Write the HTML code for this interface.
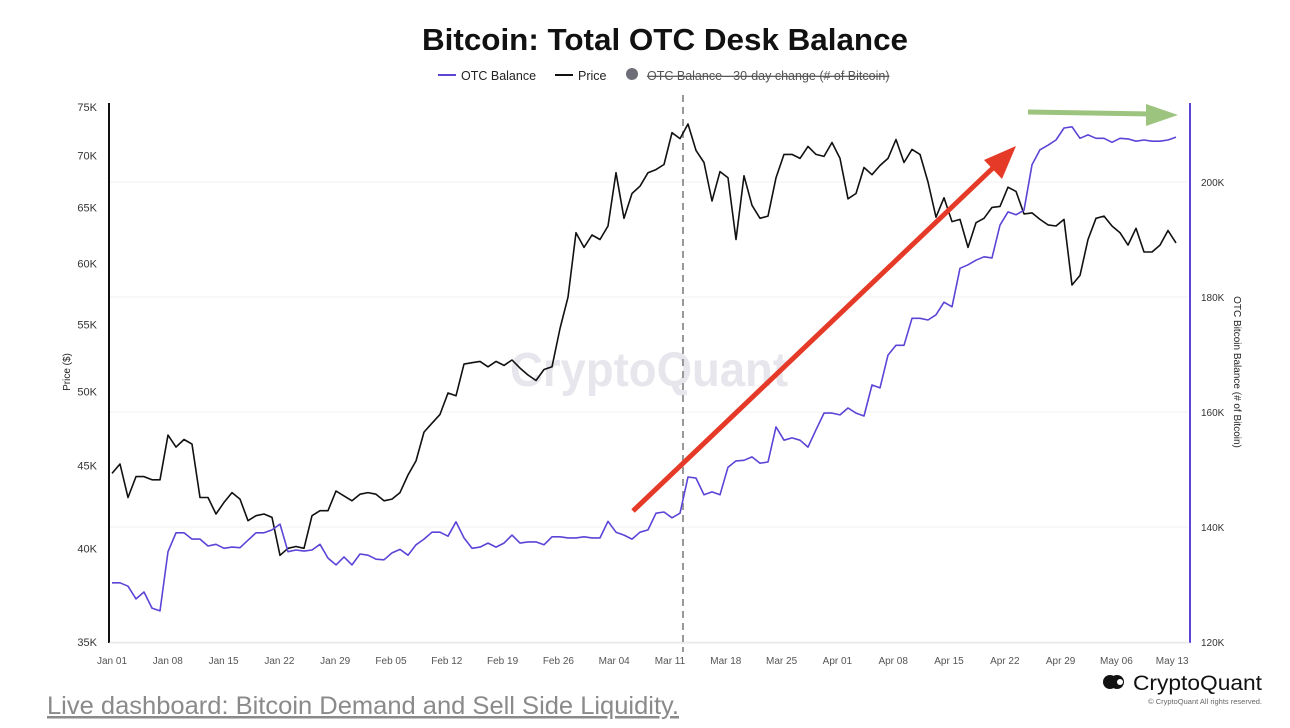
<!DOCTYPE html>
<html><head><meta charset="utf-8"><style>
body{margin:0;background:#fff;width:1290px;height:728px;overflow:hidden;font-family:"Liberation Sans",sans-serif;}
svg{display:block}
</style></head><body>
<svg id="chart" width="1290" height="728">
<text x="665" y="50" text-anchor="middle" font-size="31" font-weight="bold" fill="#111" textLength="486" lengthAdjust="spacingAndGlyphs">Bitcoin: Total OTC Desk Balance</text>
<g font-size="12.5" fill="#222">
<g><line x1="438" y1="75" x2="456" y2="75" stroke="#5a45d6" stroke-width="2"/><text x="461" y="80">OTC Balance</text></g>
<g><line x1="555" y1="75" x2="573" y2="75" stroke="#111" stroke-width="2"/><text x="578" y="80">Price</text></g>
<g><circle cx="632" cy="74" r="6" fill="#6e6e78"/><text x="647" y="80" fill="#555" text-decoration="line-through">OTC Balance - 30-day change (# of Bitcoin)</text></g>
</g>
<text x="510" y="386" font-size="48" font-weight="bold" fill="#e6e6ec" textLength="278" lengthAdjust="spacingAndGlyphs">CryptoQuant</text>
<g id="grid"></g>
<g id="axes"></g>
<line x1="683" y1="95" x2="683" y2="652" stroke="#999" stroke-width="2" stroke-dasharray="7,5"/>
<g id="series"></g>
<g>
<line x1="633" y1="511" x2="995" y2="166" stroke="#e63a28" stroke-width="5"/>
<polygon points="1016,146 984,160 1002,179" fill="#e63a28"/></g>
<g>
<line x1="1028" y1="112" x2="1150" y2="114" stroke="#9dc47e" stroke-width="5"/>
<polygon points="1178,115 1146,104 1146,126" fill="#9dc47e"/></g>
<text x="47" y="714" font-size="25" fill="#8a8a8a" text-decoration="underline" textLength="632" lengthAdjust="spacingAndGlyphs">Live dashboard: Bitcoin Demand and Sell Side Liquidity.</text>
<g>
<circle cx="1110" cy="682" r="7" fill="#111"/><circle cx="1117" cy="682" r="7" fill="#111"/><circle cx="1120" cy="682" r="3" fill="#fff"/>
<text x="1133" y="690" font-size="21" fill="#111" textLength="129" lengthAdjust="spacingAndGlyphs">CryptoQuant</text>
<text x="1262" y="704" text-anchor="end" font-size="7.5" fill="#666">© CryptoQuant All rights reserved.</text></g>
</svg>
<script>
const priceJan=[44.5,45.1,43.0,44.3,44.3,44.1,44.1,47.0,46.2,46.7,46.4,43.0,43.0,42.0,42.7,43.3,42.9,41.6,41.9,42.0,41.8,39.6,40.0,40.1,40.0,41.9,42.2,42.2,43.4,43.1,42.8];
const priceFeb=[43.2,43.3,43.2,42.8,42.9,43.3,44.4,45.3,47.2,47.8,48.4,49.9,49.7,52.0,52.1,52.2,51.8,52.2,51.9,52.3,51.7,51.2,50.8,51.6,51.8,54.7,57.2,62.7,61.4];
const priceMar=[62.5,62.1,63.3,68.3,64.0,66.3,67.0,68.3,68.6,69.1,72.3,71.7,73.2,70.5,69.3,65.6,68.4,67.8,62.1,68.0,65.2,64.0,64.2,67.8,70.1,70.1,69.7,70.9,70.1,69.9,71.3];
const priceApr=[69.7,65.8,66.3,68.8,68.1,69.0,69.7,71.6,69.3,70.6,70.1,67.4,64.1,65.9,63.7,63.9,61.4,63.6,64.0,65.0,65.1,66.9,66.5,64.4,64.5,63.9,63.4,63.3,63.9,58.2];
const priceMay=[59.0,62.1,64.0,64.2,63.3,62.7,61.6,63.1,61.0,61.0,61.6,62.9,61.8];
const otcJan=[130.3,130.3,129.7,127.5,128.7,125.9,125.4,135.7,139.0,139.0,137.9,137.9,136.7,137.0,136.3,136.5,136.4,137.7,139.0,139.0,139.5,140.5,135.7,136.0,135.8,136.0,137.0,134.6,133.4,134.8,133.4];
const otcFeb=[135.3,135.1,134.4,134.3,135.5,136.1,135.1,136.9,137.9,139.1,139.1,138.4,140.9,138.1,136.3,136.5,137.2,136.5,137.2,138.6,137.2,137.4,137.4,136.9,138.3,138.3,138.1,138.1,138.3];
const otcMar=[138.1,138.1,141.0,139.1,138.6,137.9,139.1,139.5,142.4,142.6,141.6,142.4,148.7,148.5,145.6,146.1,145.6,150.4,151.5,151.6,152.2,151.1,151.3,157.4,155.1,155.5,155.1,153.9,156.9,159.8,159.8];
const otcApr=[159.5,160.7,159.8,159.3,164.7,164.2,169.9,171.6,171.6,176.3,176.3,176.0,176.9,179.1,178.3,185.0,185.6,186.4,187.0,186.8,192.5,194.8,194.3,195.1,203.0,205.6,206.4,207.3,209.4,209.6];
const otcMay=[207.6,208.2,207.6,207.6,206.9,207.6,207.5,207.1,207.3,207.1,207.1,207.3,207.8];
const leftTicks=[35,40,45,50,55,60,65,70,75];
const rightTicks=[120,140,160,180,200];
const xLabels=["Jan 01","Jan 08","Jan 15","Jan 22","Jan 29","Feb 05","Feb 12","Feb 19","Feb 26","Mar 04","Mar 11","Mar 18","Mar 25","Apr 01","Apr 08","Apr 15","Apr 22","Apr 29","May 06","May 13"];

const price=[].concat(priceJan,priceFeb,priceMar,priceApr,priceMay);
const otc=[].concat(otcJan,otcFeb,otcMar,otcApr,otcMay);
const NS="http://www.w3.org/2000/svg";
const X0=112,DX=8;
const xDay=i=>X0+i*DX;
const yL=v=>642-702*Math.log(v/35);
const yR=v=>642-(v-120)*115/20;
function mk(tag,attrs,parent){const e=document.createElementNS(NS,tag);for(const k in attrs)e.setAttribute(k,attrs[k]);parent.appendChild(e);return e;}
const grid=document.getElementById('grid'),axes=document.getElementById('axes'),series=document.getElementById('series');
rightTicks.forEach(v=>{
  const g=mk('line',{x1:110,x2:1188,y1:yR(v),y2:yR(v),stroke:'#f0f0f0','stroke-width':1},grid);
  
  
  const t=mk('text',{x:1201,y:yR(v)+4,'font-size':10,fill:'#333'},axes);t.textContent=v+'K';
  
  
});
leftTicks.forEach(v=>{
  const t=mk('text',{x:97,y:yL(v)+4,'font-size':11,fill:'#333','text-anchor':'end'},axes);t.textContent=v+'K';
  
  
});
xLabels.forEach((s,i)=>{
  const t=mk('text',{x:112+i*55.8,y:664,'font-size':10,fill:'#555','text-anchor':'middle'},axes);t.textContent=s;
  
  
});
const la=mk('line',{x1:109,x2:109,y1:103,y2:643,stroke:'#111','stroke-width':2},axes);


const ra=mk('line',{x1:1190,x2:1190,y1:103,y2:643,stroke:'#5a45d6','stroke-width':2},axes);


const bl=mk('line',{x1:109,x2:1190,y1:643,y2:643,stroke:'#e6e6e6','stroke-width':1},axes);


const lt=mk('text',{x:0,y:0,'font-size':10,fill:'#222','text-anchor':'middle',transform:'translate(70,372) rotate(-90)'},axes);lt.textContent='Price ($)';


const rt=mk('text',{x:0,y:0,'font-size':10,fill:'#222','text-anchor':'middle',transform:'translate(1234,372) rotate(90)'},axes);rt.textContent='OTC Bitcoin Balance (# of Bitcoin)';


const pp=mk('polyline',{points:price.map((v,i)=>xDay(i)+','+yL(v).toFixed(1)).join(' '),fill:'none',stroke:'#111','stroke-width':1.6,'stroke-linejoin':'round'},series);


const op=mk('polyline',{points:otc.map((v,i)=>xDay(i)+','+yR(v).toFixed(1)).join(' '),fill:'none',stroke:'#5a45d6','stroke-width':1.6,'stroke-linejoin':'round'},series);


</script>
</body></html>
